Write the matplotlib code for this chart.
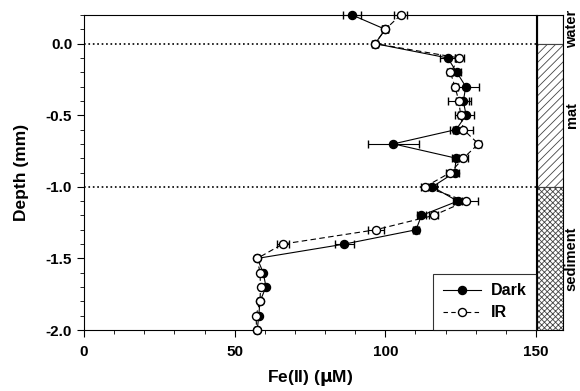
import matplotlib.pyplot as plt
import matplotlib.patches as mpatches
from matplotlib.lines import Line2D

plt.rcParams['font.family'] = ['Liberation Sans', 'DejaVu Sans']
plt.rcParams['font.weight'] = 'bold'
plt.rcParams['hatch.linewidth'] = 0.6

# profundidade (mm) e Fe(II) (uM)
depth = [0.2, 0.1, 0.0, -0.1, -0.2, -0.3, -0.4, -0.5, -0.6, -0.7, -0.8, -0.9,
         -1.0, -1.1, -1.2, -1.3, -1.4, -1.5, -1.6, -1.7, -1.8, -1.9, -2.0]
dark = [89.0, 100.0, 96.6, 120.7, 123.7, 126.7, 125.9, 126.8, 123.5, 102.7, 123.5, 123.0,
        115.6, 124.0, 112.0, 110.2, 86.4, 57.5, 59.5, 60.4, 58.4, 58.0, 57.5]
dark_err = [2.9, 1.0, 0.5, 2.5, 1.5, 4.4, 2.5, 2.7, 2.0, 8.5, 1.5, 1.5,
            1.5, 1.5, 1.5, 1.0, 3.2, 0.5, 0.5, 0.5, 0.5, 0.5, 0.5]
ir = [105.1, 100.0, 96.6, 124.6, 121.6, 123.1, 124.4, 125.0, 125.9, 130.9, 125.9, 121.6,
      113.2, 126.8, 116.0, 96.8, 65.9, 57.5, 58.4, 58.6, 58.4, 57.1, 57.3]
ir_err = [2.1, 1.0, 1.0, 1.5, 1.0, 1.0, 3.5, 2.0, 3.3, 1.0, 1.5, 1.5,
          1.5, 4.0, 1.5, 2.6, 2.0, 0.5, 0.5, 0.5, 0.5, 0.5, 0.5]

zonas = ['water', 'mat', 'sediment']
limites = [(0.2, 0.0), (0.0, -1.0), (-1.0, -2.0)]
hachuras = [None, '////', 'xxxxxx']

fig = plt.figure(figsize=(5.8, 3.91), dpi=100)
ax = fig.add_axes([0.1448, 0.156, 0.7793, 0.8056])

ax.axhline(0.0, color='black', linestyle=':', linewidth=1.2, zorder=1)
ax.axhline(-1.0, color='black', linestyle=':', linewidth=1.2, zorder=1)

ax.errorbar(dark, depth, xerr=dark_err, fmt='-o', color='black', mfc='black', mec='black',
            ms=5.8, lw=0.8, elinewidth=0.8, capsize=3, zorder=3, clip_on=False)
ax.errorbar(ir, depth, xerr=ir_err, fmt='--o', color='black', mfc='white', mec='black',
            ms=5.8, lw=0.8, elinewidth=0.8, capsize=3, zorder=4, clip_on=False,
            dashes=(5, 3))

ax.set_xlim(0, 150)
ax.set_ylim(-2.0, 0.2)
ax.set_xticks([0, 50, 100, 150])
ax.set_xticks(range(0, 151, 10), minor=True)
ax.set_yticks([-2.0, -1.5, -1.0, -0.5, 0.0])
ax.set_yticks([i / 10 for i in range(-20, 3)], minor=True)
ax.set_yticklabels(['-2.0', '-1.5', '-1.0', '-0.5', '0.0'])
ax.tick_params(axis='both', which='major', labelsize=11, length=5, width=0.8)
ax.tick_params(axis='x', which='major', pad=6)
ax.tick_params(axis='both', which='minor', length=3, width=0.6)
ax.set_xlabel('Fe(II) ($\\mathbf{\\mu}$M)', fontsize=12.5, fontweight='bold', labelpad=6)
ax.set_ylabel('Depth (mm)', fontsize=12.5, fontweight='bold', labelpad=12)
for s in ax.spines.values():
    s.set_linewidth(0.8)

h_dark = Line2D([], [], color='black', lw=0.8, marker='o', ms=5.8, mfc='black', mec='black')
h_ir = Line2D([], [], color='black', lw=0.8, ls='--', dashes=(4, 3), marker='o', ms=5.8,
              mfc='white', mec='black')
leg = ax.legend([h_dark, h_ir], ['Dark', 'IR'], loc='lower right', fontsize=11.5,
                frameon=True, fancybox=False, edgecolor='black', borderaxespad=0,
                handlelength=2.4, handletextpad=0.6, borderpad=0.6, labelspacing=0.45)
leg.get_frame().set_linewidth(0.8)

# painel lateral com as zonas
ax2 = fig.add_axes([0.9259, 0.156, 0.0448, 0.8056])
ax2.set_xlim(0, 1)
ax2.set_ylim(-2.0, 0.2)
ax2.set_xticks([])
ax2.set_yticks([])
for s in ax2.spines.values():
    s.set_linewidth(0.8)
for nome, (topo, base), h in zip(zonas, limites, hachuras):
    ret = mpatches.Rectangle((0, base), 1, topo - base, facecolor='white',
                             edgecolor='#444444', hatch=h, linewidth=0.8)
    ax2.add_patch(ret)
    ax2.text(1.33, (topo + base) / 2, nome, rotation=90, ha='center', va='center',
             fontsize=10.5, fontweight='bold', clip_on=False)

plt.savefig('out.png', dpi=100)
